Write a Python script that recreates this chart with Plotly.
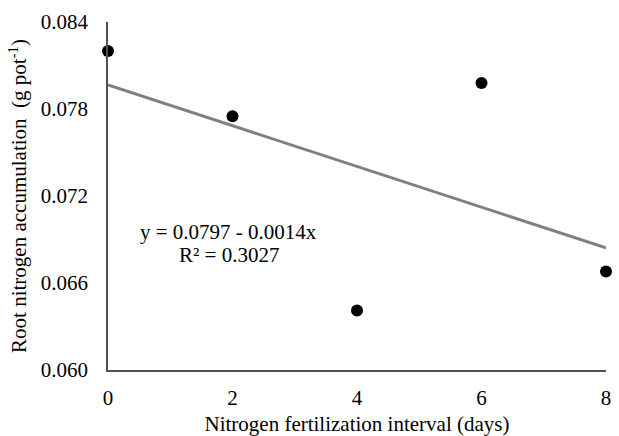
import numpy as np
import plotly.graph_objects as go

interval_days = [0, 2, 4, 6, 8]
root_n = [0.0820, 0.0775, 0.0641, 0.0798, 0.0668]
x_ticks = [0, 2, 4, 6, 8]
y_ticks = [0.060, 0.066, 0.072, 0.078, 0.084]
y_tick_labels = ["0.060", "0.066", "0.072", "0.078", "0.084"]
equation_text = "y = 0.0797 - 0.0014x"
r2_text = "R² = 0.3027"

slope, intercept = np.polyfit(interval_days, root_n, 1)
trend_x = [0, 8]
trend_y = [intercept + slope * v for v in trend_x]

font = "Liberation Serif, Times New Roman, serif"
fs = 21

fig = go.Figure()
fig.add_trace(go.Scatter(x=trend_x, y=trend_y, mode="lines",
                         line=dict(color="#808080", width=3),
                         cliponaxis=False, showlegend=False, hoverinfo="skip"))
fig.add_trace(go.Scatter(x=interval_days, y=root_n, mode="markers",
                         marker=dict(color="black", size=12),
                         cliponaxis=False, showlegend=False))

fig.add_annotation(x=1.94, y=0.06952, xref="x", yref="y", text=equation_text,
                   showarrow=False, xanchor="center", yanchor="middle",
                   font=dict(family=font, size=fs, color="black"))
fig.add_annotation(x=1.94, y=0.06793, xref="x", yref="y", text=r2_text,
                   showarrow=False, xanchor="center", yanchor="middle",
                   font=dict(family=font, size=fs, color="black"))

fig.update_layout(
    width=619, height=436,
    margin=dict(l=108, r=13, t=22, b=66),
    plot_bgcolor="white", paper_bgcolor="white",
    font=dict(family=font, size=fs, color="black"),
    xaxis=dict(range=[0, 8], tickvals=x_ticks, showgrid=False, zeroline=False,
               showline=True, linecolor="#505050", linewidth=1.5,
               ticks="outside", ticklen=8, tickcolor="rgba(0,0,0,0)",
               tickfont=dict(family=font, size=fs),
               title=dict(text="Nitrogen fertilization interval (days)", standoff=10,
                          font=dict(family=font, size=fs)),
               automargin=False),
    yaxis=dict(range=[0.060, 0.084], tickvals=y_ticks, ticktext=y_tick_labels,
               showgrid=False, zeroline=False,
               showline=True, linecolor="#505050", linewidth=1.5,
               ticks="outside", ticklen=14, tickcolor="rgba(0,0,0,0)",
               tickfont=dict(family=font, size=fs),
               title=dict(text="Root nitrogen accumulation  (g pot<sup>-1</sup>)", standoff=8,
                          font=dict(family=font, size=fs)),
               automargin=False),
)

fig.write_html("out.html", config={"displayModeBar": False},
               post_script="document.body.style.margin='0';")
